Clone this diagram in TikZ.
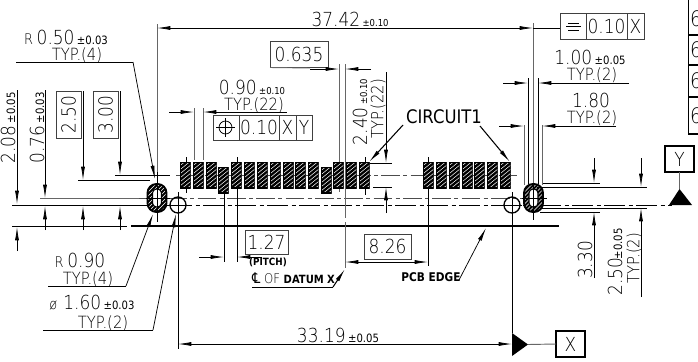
\documentclass[tikz,border=0pt]{standalone}
\usepackage{fontspec}
\usetikzlibrary{arrows.meta}
\newfontfamily\cadf{DejaVu Sans ExtraLight}[FakeStretch=0.88]
\newfontfamily\cadb{DejaVu Sans}[FakeStretch=0.88]
\newcommand{\bg}[1]{{\fontsize{14.5}{15}\selectfont #1}}
\newcommand{\md}[1]{{\fontsize{11}{12}\selectfont #1}}
\newcommand{\sm}[1]{{\cadb\fontsize{7.2}{8}\selectfont\hspace{-1pt}#1}}
\newcommand{\smb}[1]{{\cadb\fontsize{8.6}{9}\selectfont\hspace{-1pt}#1}}
\newcommand{\tx}[1]{{\fontsize{12.6}{13}\selectfont #1}}
\newcommand{\hatchbox}[4]{%
  \begin{scope}
    \clip (#1,#2) rectangle (#3,#4);
    \foreach \hk in {-10,-5,...,50}
      \draw[black,line width=1.75pt] (#1+\hk-20,#4) -- (#1+\hk+12,#2);
    \draw[black,line width=1.5pt] (#1,#2) rectangle (#3,#4);
  \end{scope}}
\tikzset{
  every node/.style={font=\cadf,inner sep=0pt,outer sep=0pt,text=black},
  thin line/.style={line width=0.55pt,black},
  gray line/.style={line width=0.7pt,black!60},
  heavy line/.style={line width=1.2pt,black},
  tipped/.style={line width=0.55pt,black,-{Latex[length=10pt,width=3pt]}},
  center line/.style={line width=0.7pt,black!70,dash pattern=on 14pt off 2.5pt on 3pt off 2.5pt},
  main center/.style={line width=0.7pt,black,dash pattern=on 16pt off 2.5pt on 3pt off 2.5pt},
  framed/.style={draw=black!75,line width=0.7pt},
  boldtext/.style={font=\cadb\bfseries},
}
\begin{document}
\begin{tikzpicture}[x=0.75pt,y=-0.75pt]
\useasboundingbox (0,0) rectangle (698,361);

% horizontal reference lines
\draw[thin line] (115,175) -- (170,175);
\draw[center line] (176,175) -- (517,175);
\draw[thin line] (78,180) -- (150,180);
\draw[gray line] (40,198) -- (139,198);
\draw[center line] (139,198) -- (547,198);
\draw[thin line] (12,205) -- (139,205);
\draw[main center] (139,205) -- (525,205);
\draw[main center] (540,205) -- (672,205);
\draw[thin line] (12,226) -- (127,226);
\draw[heavy line] (131,226) -- (559,226);

% extension lines
\draw[gray line] (157,24) -- (157,172);
\draw[thin line] (157,172) -- (157,222);
\draw[gray line] (533,23) -- (533,183);
\draw[thin line] (533,183) -- (533,220);
\draw[thin line] (528,78) -- (528,184);
\draw[thin line] (538,78) -- (538,184);
\draw[gray line] (524,125) -- (524,185);
\draw[gray line] (542,125) -- (542,185);
\draw[thin line] (186,157) -- (186,193);
\draw[gray line] (194,108) -- (194,160);
\draw[gray line] (203,108) -- (203,160);
\draw[thin line] (224,193) -- (224,262);
\draw[thin line] (237,157) -- (237,262);
\draw[gray line] (339,64) -- (339,192);
\draw[gray line] (345,64) -- (345,218);
\draw[gray line] (345,222) -- (345,268);
\draw[thin line] (365,157) -- (365,195);
\draw[thin line] (428,157) -- (428,266);
\draw[thin line] (178,192) -- (178,349);
\draw[thin line] (512,192) -- (512,333);

% pads
\foreach \px in {180,193,206,231,244,257,270,283,295,308,333,346,359,423,436,449,462,474,487,500}{
  \fill[white] (\px,162) rectangle (\px+10.5,188);
  \hatchbox{\px}{162}{\px+10.5}{188}
}
\foreach \px in {218,321}{
  \fill[white] (\px,167) rectangle (\px+10.5,193);
  \hatchbox{\px}{167}{\px+10.5}{193}
}

% slots
\foreach \sx in {157,533.5}{
  \begin{scope}
    \clip[rounded corners=6.7pt] (\sx-9.5,184) rectangle (\sx+9.5,212);
    \fill[white] (\sx-10,183) rectangle (\sx+10,213);
    \foreach \hk in {-10,-6,...,46}
      \draw[black,line width=1.5pt] (\sx-30+\hk,213) -- (\sx+\hk,183);
  \end{scope}
  \draw[line width=1.4pt,rounded corners=6.7pt] (\sx-9.5,184) rectangle (\sx+9.5,212);
  \draw[line width=0.8pt,fill=white,rounded corners=3pt] (\sx-4.5,189) rectangle (\sx+4.5,207);
}
\draw[thin line] (146,198) -- (170,198);
\draw[thin line] (522,198) -- (547,198);
\draw[thin line] (157,186) -- (157,222);
\draw[thin line] (533.5,186) -- (533.5,220);

% holes
\draw[line width=1pt] (178,205) circle (8);
\draw[line width=1pt] (512,205) circle (8);
\draw[thin line] (168,205) -- (188,205);
\draw[thin line] (502,205) -- (522,205);

% top dim
\draw[tipped] (300,28) -- (157,28);
\draw[tipped] (400,28) -- (533,28);
\draw[thin line] (300,28) -- (400,28);
\draw[thin line] (533,28) -- (560,28);
\node (d3742) at (350,19) {\bg{37.42} \sm{±0.10}};

% R 0.50
\draw[tipped] (133,62) -- (155,179);
\draw[thin line] (16,62) -- (133,62);
\node[anchor=west] (r50) at (24,37) {\md{R} \bg{0.50} \smb{±0.03}};
\node (r50t) at (77,55) {\tx{TYP.(4)}};

% left vertical dims
\draw[tipped] (17,90) -- (17,204);
\draw[tipped] (17,251) -- (17,227);
\draw[tipped] (45,90) -- (45,198);
\draw[tipped] (45,230) -- (45,206);
\draw[tipped] (83,91) -- (83,180);
\draw[tipped] (83,230) -- (83,206);
\draw[tipped] (120,91) -- (120,175);
\draw[tipped] (120,230) -- (120,206);
\node[rotate=90] (d208) at (8,128) {\bg{2.08} \smb{±0.05}};
\node[rotate=90] (d076) at (37,128) {\bg{0.76} \smb{±0.03}};
\node[framed,minimum width=25*0.75pt,minimum height=47*0.75pt] (b250) at (68.5,114.5) {\rotatebox{90}{\bg{2.50}}};
\node[framed,minimum width=25*0.75pt,minimum height=47*0.75pt] (b300) at (105.5,114.5) {\rotatebox{90}{\bg{3.00}}};

% R 0.90 and phi 1.60
\draw[tipped] (126,286) -- (153,214);
\draw[thin line] (48,286) -- (126,286);
\node (r90) at (80,260) {\md{R} \bg{0.90}};
\node (r90t) at (88,279) {\tx{TYP.(4)}};
\draw[tipped] (153,330) -- (176,214);
\draw[thin line] (43,330) -- (153,330);
\node (p160) at (92,303) {{\md{ø}}\, \bg{1.60} \smb{±0.03}};
\node (p160t) at (103,323) {\tx{TYP.(2)}};

% 0.90 dim
\draw[tipped] (169,112) -- (194,112);
\draw[tipped] (230,112) -- (203,112);
\draw[thin line] (230,112) -- (287,112);
\node (d090) at (252,87) {\bg{0.90} \sm{±0.10}};
\node (d090t) at (254,105) {\tx{TYP.(22)}};

% position tolerance frame
\node[framed,minimum width=26*0.75pt,minimum height=25*0.75pt] (fa) at (226,127.5) {};
\node[framed,minimum width=40*0.75pt,minimum height=25*0.75pt] (fb) at (259,127.5) {\bg{0.10}};
\node[framed,minimum width=17*0.75pt,minimum height=25*0.75pt] (fc) at (287.5,127.5) {\bg{X}};
\node[framed,minimum width=16*0.75pt,minimum height=25*0.75pt] (fd) at (304,127.5) {\bg{Y}};
\draw[thin line] (225.5,127.5) circle (6.5);
\draw[thin line] (216,127.5) -- (235,127.5);
\draw[thin line] (225.5,118) -- (225.5,137);

% 0.635
\node[framed,minimum width=58*0.75pt,minimum height=26*0.75pt] (b635) at (299,54) {\bg{0.635}};
\draw[tipped] (310,69) -- (339,69);
\draw[gray line] (270,67.5) -- (310,68);
\draw[tipped] (371,69) -- (345,69);

% 2.40
\draw[tipped] (386,72) -- (386,163);
\draw[tipped] (386,213) -- (386,187);
\draw[thin line] (370,163) -- (392,163);
\draw[thin line] (373,187) -- (392,187);
\node[rotate=90] (d240) at (360,112) {\bg{2.40} \sm{±0.10}};
\node[rotate=90] (d240t) at (378,109) {\tx{TYP.(22)}};

% CIRCUIT1
\node (ckt) at (444,117) {{\cadb\fontsize{14}{15}\selectfont CIRCUIT1}};
\draw[tipped,line width=0.8pt] (403,125) -- (369,162);
\draw[tipped,line width=0.8pt] (480,126) -- (510,162);

% right dims
\draw[tipped] (503,83) -- (528,83);
\draw[tipped] (629,83) -- (538,83);
\draw[tipped] (499,126) -- (524,126);
\draw[tipped] (616,126) -- (542,126);
\node (d100) at (590,57) {\bg{1.00} \smb{±0.05}};
\node (d100t) at (592,75) {\tx{TYP.(2)}};
\node (d180) at (591,100) {\bg{1.80}};
\node (d180t) at (592,118) {\tx{TYP.(2)}};

% symmetry frame
\node[framed,minimum width=26*0.75pt,minimum height=26*0.75pt] (ga) at (573,26) {};
\node[framed,minimum width=41*0.75pt,minimum height=26*0.75pt] (gb) at (606.5,26) {\bg{0.10}};
\node[framed,minimum width=17*0.75pt,minimum height=26*0.75pt] (gc) at (635.5,26) {\bg{X}};
\draw[thin line] (568,23) -- (579,23);
\draw[thin line] (566,26.5) -- (581,26.5);
\draw[thin line] (568,30) -- (579,30);

% Y datum
\node[draw,line width=1pt,minimum width=29*0.75pt,minimum height=26*0.75pt] (dy) at (679.5,159) {\bg{Y}};
\coordinate (dyt) at (679.5,189);
\draw[gray line] (dy.south) -- (dyt);
\fill (dyt) -- (692,205) -- (669,205) -- cycle;

% right side dims
\draw[tipped] (594,158) -- (594,183);
\draw[tipped] (641,158) -- (641,187);
\draw[thin line] (543,183) -- (600,183);
\draw[thin line] (537,187) -- (647,187);
\draw[thin line] (540,212) -- (600,212);
\draw[thin line] (540,208) -- (647,208);
\draw[tipped] (594,278) -- (594,212);
\draw[tipped] (641,297) -- (641,208);
\node[rotate=90] (d330) at (585,260) {\bg{3.30}};
\node[rotate=90] (d250) at (615,262) {\bg{2.50}\smb{±0.05}};
\node[rotate=90] (d250t) at (634,258) {\tx{TYP.(2)}};

% PITCH dim
\draw[tipped] (199,257) -- (224,257);
\draw[tipped] (262,257) -- (237,257);
\node[framed,minimum width=43*0.75pt,minimum height=24*0.75pt] (b127) at (266.5,242) {\bg{1.27}};
\node[boldtext] (pitch) at (268,262) {\fontsize{7.5}{8}\selectfont (PITCH)};
\node[anchor=west] (datum) at (252,278) {{\cadb\fontsize{11}{12}\selectfont ℄} {\fontsize{10}{11}\selectfont OF} {\cadb\bfseries\fontsize{8.5}{10}\selectfont DATUM X}};
\draw[thin line] (252,287) -- (333,287);
\draw[tipped,line width=0.8pt] (333,287) -- (345,269);

% 8.26
\draw[tipped] (390,262) -- (345,262);
\draw[tipped] (390,262) -- (428,262);
\node[framed,minimum width=47*0.75pt,minimum height=25*0.75pt] (b826) at (387.5,246.5) {\bg{8.26}};

% PCB EDGE
\node[boldtext] (pcb) at (431,277) {\fontsize{9}{10}\selectfont PCB EDGE};
\draw[tipped] (459,280) -- (486,228);

% 33.19
\draw[tipped] (340,344) -- (178,344);
\draw[tipped] (340,344) -- (512,344);
\node (d3319) at (338,335) {\bg{33.19} \smb{±0.05}};
\fill (512,333) -- (528,344.5) -- (512,356) -- cycle;
\node[draw,line width=1pt,minimum width=29*0.75pt,minimum height=26*0.75pt] (dx) at (570.5,344) {\bg{X}};
\coordinate (dxt) at (528,344.5);
\draw[gray line] (dxt) -- (dx.west);

% table fragment on the right
\begin{scope}
  \clip (680,0) rectangle (698,361);
  \draw[line width=1pt] (688.5,-2) -- (688.5,134) -- (700,134);
  \draw[line width=1pt] (688.5,35) -- (700,35);
  \draw[line width=1pt] (688.5,65) -- (700,65);
  \draw[line width=1pt] (688.5,97) -- (700,97);
  \foreach \ty/\nm in {19/a,50/b,81/c,116/d}
    \node[anchor=west] (six\nm) at (690,\ty) {\fontsize{16}{17}\selectfont 6};
\end{scope}
\end{tikzpicture}
\end{document}
